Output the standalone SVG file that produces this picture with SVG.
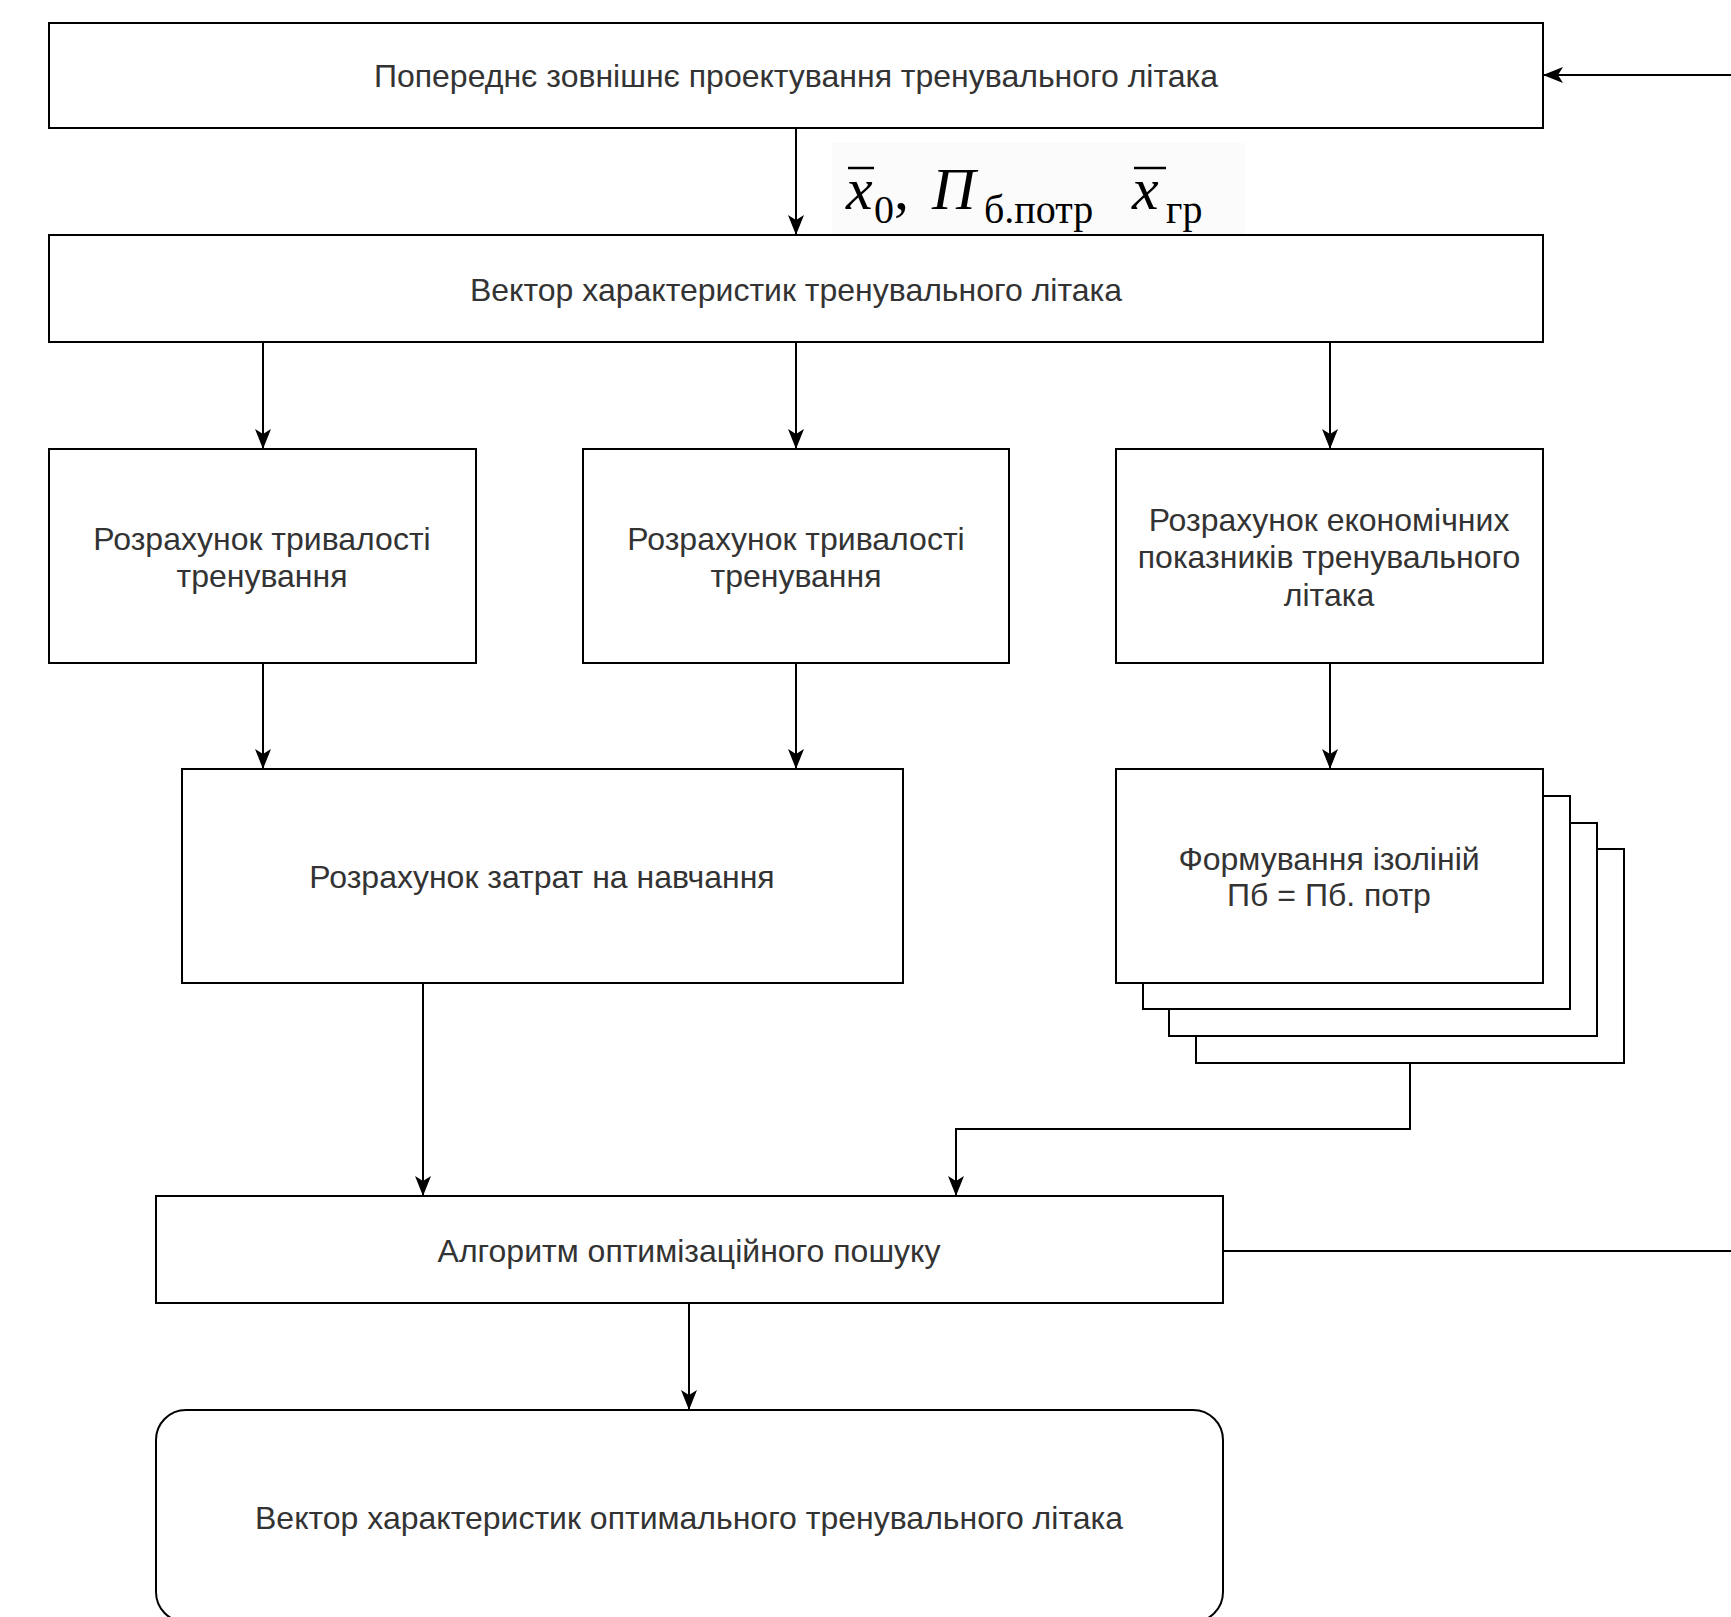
<svg xmlns="http://www.w3.org/2000/svg" width="1731" height="1617" viewBox="0 0 1731 1617">
  <style>
    .box { fill: #ffffff; stroke: #000000; stroke-width: 2; }
    .edge { fill: none; stroke: #000000; stroke-width: 2; }
    .lbl { font-family: "Liberation Sans", Arial, sans-serif; font-size: 32px; fill: #333333; text-anchor: middle; dominant-baseline: central; }
    .math { font-family: "Liberation Serif", "Times New Roman", serif; fill: #000000; }
  </style>
  <defs>
    <marker id="arr" markerUnits="userSpaceOnUse" markerWidth="22" markerHeight="18" refX="20" refY="8" orient="auto">
      <path d="M0,0 L20,8 L0,16 L5,8 Z" fill="#000000"/>
    </marker>
  </defs>
  <rect width="1731" height="1617" fill="#ffffff"/>

  <g id="connectors">
    <path class="edge" d="M1731,75 L1543,75" marker-end="url(#arr)"/>
    <path class="edge" d="M796,128 L796,235" marker-end="url(#arr)"/>
    <path class="edge" d="M263,342 L263,449" marker-end="url(#arr)"/>
    <path class="edge" d="M796,342 L796,449" marker-end="url(#arr)"/>
    <path class="edge" d="M1330,342 L1330,449" marker-end="url(#arr)"/>
    <path class="edge" d="M263,663 L263,769" marker-end="url(#arr)"/>
    <path class="edge" d="M796,663 L796,769" marker-end="url(#arr)"/>
    <path class="edge" d="M1330,663 L1330,769" marker-end="url(#arr)"/>
    <path class="edge" d="M423,983 L423,1196" marker-end="url(#arr)"/>
    <path class="edge" d="M1410,1063 L1410,1129 L956,1129 L956,1196" marker-end="url(#arr)"/>
    <path class="edge" d="M1223,1251 L1731,1251"/>
    <path class="edge" d="M689,1303 L689,1410" marker-end="url(#arr)"/>
  </g>

  <g id="formula">
    <rect x="832" y="143" width="413" height="91" fill="#fbfbfb"/>
    <text class="math" font-size="60" font-style="italic" x="846" y="209">x</text>
    <line x1="848" y1="168" x2="874" y2="168" stroke="#000" stroke-width="2.5"/>
    <text class="math" font-size="40" x="874" y="223">0</text>
    <text class="math" font-size="60" x="894" y="209">,</text>
    <text class="math" font-size="60" font-style="italic" x="932" y="209">П</text>
    <text class="math" font-size="40" x="984" y="223">б.потр</text>
    <text class="math" font-size="60" font-style="italic" x="1132" y="209">x</text>
    <line x1="1134" y1="168" x2="1166" y2="168" stroke="#000" stroke-width="2.5"/>
    <text class="math" font-size="40" x="1166" y="223">гр</text>
  </g>

  <g id="node-preliminary">
    <rect class="box" x="49" y="23" width="1494" height="105"/>
    <text class="lbl" x="796" y="76">Попереднє зовнішнє проектування тренувального літака</text>
  </g>
  <g id="node-vector">
    <rect class="box" x="49" y="235" width="1494" height="107"/>
    <text class="lbl" x="796" y="290">Вектор характеристик тренувального літака</text>
  </g>
  <g id="node-duration1">
    <rect class="box" x="49" y="449" width="427" height="214"/>
    <text class="lbl" x="262" y="539">Розрахунок тривалості</text>
    <text class="lbl" x="262" y="576">тренування</text>
  </g>
  <g id="node-duration2">
    <rect class="box" x="583" y="449" width="426" height="214"/>
    <text class="lbl" x="796" y="539">Розрахунок тривалості</text>
    <text class="lbl" x="796" y="576">тренування</text>
  </g>
  <g id="node-economic">
    <rect class="box" x="1116" y="449" width="427" height="214"/>
    <text class="lbl" x="1329" y="520">Розрахунок економічних</text>
    <text class="lbl" x="1329" y="557">показників тренувального</text>
    <text class="lbl" x="1329" y="595">літака</text>
  </g>
  <g id="node-costs">
    <rect class="box" x="182" y="769" width="721" height="214"/>
    <text class="lbl" x="542" y="877">Розрахунок затрат на навчання</text>
  </g>
  <g id="node-isolines">
    <rect class="box" x="1196" y="849" width="428" height="214"/>
    <rect class="box" x="1169" y="823" width="428" height="213"/>
    <rect class="box" x="1143" y="796" width="427" height="213"/>
    <rect class="box" x="1116" y="769" width="427" height="214"/>
    <text class="lbl" x="1329" y="859">Формування ізоліній</text>
    <text class="lbl" x="1329" y="895">Пб = Пб. потр</text>
  </g>
  <g id="node-algorithm">
    <rect class="box" x="156" y="1196" width="1067" height="107"/>
    <text class="lbl" x="689" y="1251">Алгоритм оптимізаційного пошуку</text>
  </g>
  <g id="node-result">
    <rect class="box" x="156" y="1410" width="1067" height="212" rx="30" ry="30"/>
    <text class="lbl" x="689" y="1518">Вектор характеристик оптимального тренувального літака</text>
  </g>
</svg>
